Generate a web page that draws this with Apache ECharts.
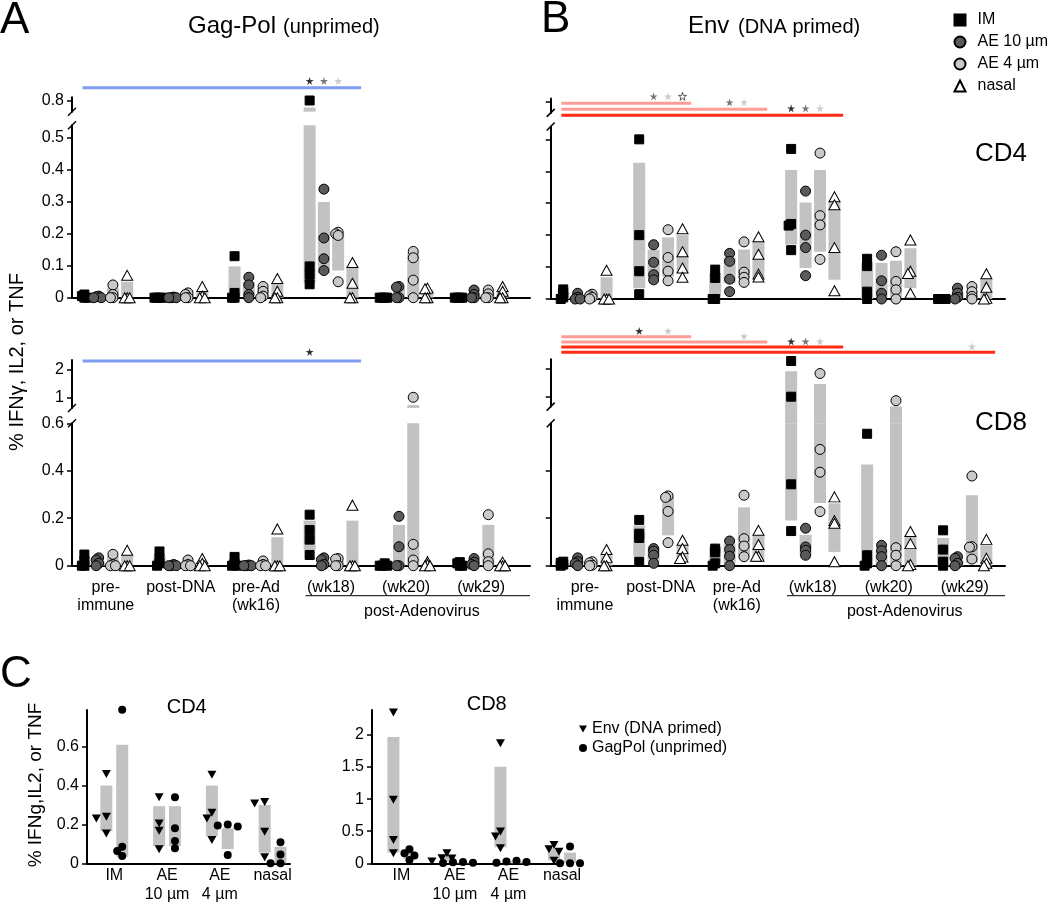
<!DOCTYPE html>
<html><head><meta charset="utf-8">
<script src="https://cdn.jsdelivr.net/npm/echarts@6/dist/echarts.min.js"></script>
<style>html,body{margin:0;padding:0;background:#fff}#c{width:1050px;height:907px}</style>
</head><body><div id="c"></div>
<script>
const FONT = '"Liberation Sans", Arial, Helvetica, sans-serif';

// ---------- categories ----------
const timepoints = ['pre-\nimmune', 'post-DNA', 'pre-Ad\n(wk16)', '(wk18)', '(wk20)', '(wk29)'];
const routes = ['IM', 'AE 10 µm', 'AE 4 µm', 'nasal'];
const routeLabelsC = ['IM', 'AE\n10 µm', 'AE\n4 µm', 'nasal'];
const antigensC = ['Env (DNA primed)', 'GagPol (unprimed)'];

// ---------- tick labels ----------
const ticksCD4Lower = [0, 0.1, 0.2, 0.3, 0.4, 0.5];
const ticksCD4Upper = [0.8];
const ticksCD8LowerA = [0, 0.2, 0.4, 0.6];
const ticksCD8LowerB = [0, 0.2, 0.4];
const ticksCD8Upper = [1, 2];
const ticksC4 = [0, 0.2, 0.4, 0.6];
const ticksC8 = [0, 0.5, 1, 1.5, 2];

// ---------- Panel A: Gag-Pol (unprimed), CD4  (per timepoint, 4 animals) ----------
const gagCD4_IM    = [[0.01,0.005,0,0],[0,0,0,0],[0.13,0.015,0,0],[0.8,0.098,0.072,0.042],[0,0,0,0],[0,0,0,0]];
const gagCD4_AE10  = [[0.005,0.003,0,0],[0.002,0,0,0],[0.064,0.04,0.01,0],[0.34,0.187,0.122,0.085],[0.035,0.033,0,0],[0.024,0.01,0,0]];
const gagCD4_AE4   = [[0.04,0.01,0,0],[0.015,0.01,0,0],[0.035,0.02,0.005,0],[0.205,0.2,0.195,0.05],[0.145,0.125,0.055,0],[0.024,0.012,0,0]];
const gagCD4_nasal = [[0.07,0,0,0],[0.035,0.005,0,0],[0.06,0.02,0,0],[0.11,0.045,0,0],[0.03,0.028,0,0],[0.035,0.02,0,0]];
const gagCD4_IM_bar    = [[0,0.008],null,[0.005,0.098],[0.047,0.778],null,null];
const gagCD4_AE10_bar  = [null,null,[0.005,0.05],[0.077,0.30],[0,0.03],[0,0.015]];
const gagCD4_AE4_bar   = [[0,0.03],[0,0.01],[0,0.03],[0.085,0.2],[0,0.14],[0,0.02]];
const gagCD4_nasal_bar = [[0,0.05],[0,0.02],[0,0.045],[0,0.098],[0,0.025],[0,0.02]];

// ---------- Panel A: Gag-Pol, CD8 ----------
const gagCD8_IM    = [[0.047,0.02,0,0],[0.06,0.03,0.01,0],[0.037,0.01,0,0],[0.215,0.15,0.11,0.045],[0.01,0,0,0],[0.015,0.01,0,0]];
const gagCD8_AE10  = [[0.033,0.024,0.01,0],[0.005,0,0,0],[0.003,0,0,0],[0.033,0.025,0.005,0],[0.208,0.08,0,0],[0.03,0.015,0.005,0]];
const gagCD8_AE4   = [[0.048,0.005,0,0],[0.024,0.005,0,0],[0.02,0.005,0,0],[0.03,0.028,0,0],[1.0,0.09,0.024,0],[0.215,0.05,0.017,0]];
const gagCD8_nasal = [[0.065,0,0,0],[0.03,0.01,0,0],[0.155,0,0,0],[0.255,0,0,0],[0.017,0.005,0,0],[0.015,0,0,0]];
const gagCD8_IM_bar    = [[0,0.025],[0,0.04],[0,0.02],[0.065,0.19],null,[0,0.01]];
const gagCD8_AE10_bar  = [[0,0.02],null,null,[0,0.02],[0,0.172],[0,0.015]];
const gagCD8_AE4_bar   = [[0,0.04],[0,0.01],[0,0.01],[0,0.02],[0,0.725],[0,0.172]];
const gagCD8_nasal_bar = [[0,0.045],[0,0.015],[0,0.12],[0,0.19],[0,0.01],[0,0.008]];

// ---------- Panel B: Env (DNA primed), CD4 ----------
const envCD4_IM    = [[0.03,0.02,0.005,0],[0.5,0.2,0.087,0.015],[0.092,0.066,0,0],[0.47,0.235,0.23,0.153],[0.126,0.103,0.023,0],[0,0,0,0]];
const envCD4_AE10  = [[0.018,0.005,0,0],[0.17,0.115,0.076,0.06],[0.143,0.118,0.062,0.023],[0.338,0.2,0.161,0.073],[0.137,0.057,0.018,0],[0.034,0.018,0.005,0]];
const envCD4_AE4   = [[0.015,0.01,0.005,0],[0.217,0.13,0.087,0.057],[0.179,0.084,0.068,0.052],[0.457,0.261,0.232,0.124],[0.148,0.055,0.029,0],[0.039,0.023,0.008,0]];
const envCD4_nasal = [[0.09,0,0,0],[0.22,0.148,0.097,0.068],[0.195,0.14,0.078,0.069],[0.32,0.295,0.161,0.026],[0.185,0.087,0.08,0.018],[0.079,0.037,0.002,0]];
const envCD4_IM_bar    = [[0,0.02],[0.034,0.427],[0.01,0.08],[0.171,0.404],[0,0.113],null];
const envCD4_AE10_bar  = [null,[0.066,0.155],[0.05,0.13],[0.097,0.302],[0.005,0.113],[0,0.02]];
const envCD4_AE4_bar   = [[0,0.01],[0.07,0.193],[0.066,0.155],[0.148,0.404],[0.007,0.12],[0,0.025]];
const envCD4_nasal_bar = [[0,0.068],[0.081,0.2],[0.066,0.179],[0.06,0.309],[0.034,0.159],[0,0.063]];

// ---------- Panel B: Env, CD8 ----------
const envCD8_IM    = [[0.017,0.012,0.005,0],[0.193,0.135,0.117,0.017],[0.072,0.056,0.01,0],[2.26,1.0,0.343,0.146],[0.556,0.044,0.01,0],[0.149,0.068,0.017,0]];
const envCD8_AE10  = [[0.033,0.017,0.01,0],[0.072,0.061,0.044,0.01],[0.104,0.068,0.04,0],[0.158,0.079,0.065,0.044],[0.086,0.063,0.038,0],[0.038,0.031,0.01,0]];
const envCD8_AE4   = [[0.017,0.012,0.002,0],[0.294,0.288,0.229,0.097],[0.297,0.114,0.083,0.038],[1.82,0.49,0.394,0.228],[0.86,0.076,0.044,0],[0.378,0.08,0.078,0.028]];
const envCD8_nasal = [[0.068,0.035,0,0],[0.107,0.072,0.037,0.03],[0.149,0.089,0.04,0.04],[0.29,0.19,0.179,0.017],[0.144,0.093,0.005,0],[0.111,0.031,0.01,0]];
const envCD8_IM_bar    = [[0,0.01],[0.04,0.17],[0.01,0.08],[0.19,1.9],[0,0.426],[0,0.117]];
const envCD8_AE10_bar  = [[0,0.02],[0.02,0.075],[0.01,0.09],[0.044,0.13],[0,0.065],[0,0.025]];
const envCD8_AE4_bar   = [[0,0.01],[0.128,0.288],[0.038,0.246],[0.264,1.45],[0,0.66],[0.01,0.297]];
const envCD8_nasal_bar = [[0,0.044],[0.024,0.086],[0.024,0.128],[0.058,0.263],[0,0.128],[0,0.086]];

// ---------- significance bars: [level, last timepoint, tone] / stars: [level, timepoint, route] ----------
const sigLinesA4 = [[0,3,0]];
const sigStarsA4 = [[0,3,0],[0,3,1],[0,3,2]];
const sigLinesA8 = [[0,3,0]];
const sigStarsA8 = [[0,3,0]];
const sigLinesB4 = [[0,1,1],[1,2,1],[2,3,2]];
const sigStarsB4 = [[0,1,1],[0,1,2],[0,1,3],[1,2,1],[1,2,2],[2,3,0],[2,3,1],[2,3,2]];
const sigLinesB8 = [[0,1,1],[1,2,1],[2,3,2],[3,5,2]];
const sigStarsB8 = [[0,1,0],[0,1,2],[1,2,2],[2,3,0],[2,3,1],[2,3,2],[3,5,2]];

// ---------- Panel C (week 18; per route, 4 animals) ----------
const envC4 = [[0.46,0.24,0.23,0.154],[0.34,0.205,0.167,0.072],[0.456,0.26,0.231,0.12],[0.316,0.308,0.162,0.031]];
const envC4_bar = [[0.166,0.4],[0.089,0.294],[0.14,0.4],[0.055,0.3]];
const gagC4 = [[0.79,0.085,0.063,0.038],[0.34,0.18,0.115,0.077],[0.2,0.195,0.19,0.043],[0.108,0.045,0,0]];
const gagC4_bar = [[0.034,0.61],[0.089,0.294],[0.073,0.18],[0,0.085]];
const envC8 = [[2.35,0.99,0.364,0.156],[0.156,0.08,0.075,0.03],[1.87,0.494,0.416,0.234],[0.286,0.218,0.18,0.04]];
const envC8_bar = [[0.17,1.97],[0.02,0.13],[0.25,1.506],[0.05,0.234]];
const gagC8 = [[0.218,0.156,0.12,0.052],[0.02,0.015,0.01,0.005],[0.04,0.03,0.02,0.01],[0.26,0,0,0]];
const gagC8_bar = [[0.07,0.19],[0,0.015],[0,0.03],[0,0.166]];

// ---------- styles ----------
const SUB = 0.19;
const BAR_COLOR = '#c2c2c2';
const STAR = 'path://M50,2L61,38L98,38L68,60L79,95L50,73L21,95L32,60L2,38L39,38Z';
const INV_TRI = 'path://M0,0L10,0L5,9Z';
const routeStyle = [
  {symbol:'rect', size:9, color:'#000'},
  {symbol:'circle', size:10, color:'#5a5a5a'},
  {symbol:'circle', size:10, color:'#c9c9c9'},
  {symbol:'triangle', size:[11,10], color:'#fff'}
];
const starColors = ['#000','#555','#bdbdbd','#fff'];
const toneColors = ['#7e9df2','#ff9d96','#ff2a14'];

const panels = [
  {pts:[gagCD4_IM,gagCD4_AE10,gagCD4_AE4,gagCD4_nasal], bars:[gagCD4_IM_bar,gagCD4_AE10_bar,gagCD4_AE4_bar,gagCD4_nasal_bar],
   x0:72, x1:530, xr:[-0.45,5.65],
   lower:{zero:297.7, ppu:319.3, max:0.54, ticks:ticksCD4Lower},
   upper:{ref:0.8, refY:100.5, ppu:319.3, min:0.765, max:0.81, ticks:ticksCD4Upper},
   showLabels:true, xLabels:false, cont:false, ann:{y0:87.7, s:6, star:6.7}, lines:sigLinesA4, stars:sigStarsA4},
  {pts:[gagCD8_IM,gagCD8_AE10,gagCD8_AE4,gagCD8_nasal], bars:[gagCD8_IM_bar,gagCD8_AE10_bar,gagCD8_AE4_bar,gagCD8_nasal_bar],
   x0:72, x1:530, xr:[-0.45,5.65],
   lower:{zero:565.7, ppu:237.3, max:0.6, ticks:ticksCD8LowerA},
   upper:{ref:1, refY:397.3, ppu:28, min:0.62, max:2.33, ticks:ticksCD8Upper},
   showLabels:true, xLabels:true, cont:false, ann:{y0:361, s:6, star:9}, lines:sigLinesA8, stars:sigStarsA8},
  {pts:[envCD4_IM,envCD4_AE10,envCD4_AE4,envCD4_nasal], bars:[envCD4_IM_bar,envCD4_AE10_bar,envCD4_AE4_bar,envCD4_nasal_bar],
   x0:550.7, x1:1005, xr:[-0.45,5.53],
   lower:{zero:299, ppu:319.3, max:0.54, ticks:ticksCD4Lower},
   upper:{ref:0.8, refY:101.7, ppu:319.3, min:0.765, max:0.81, ticks:ticksCD4Upper},
   showLabels:false, xLabels:false, cont:true, ann:{y0:103.3, s:6, star:7}, lines:sigLinesB4, stars:sigStarsB4},
  {pts:[envCD8_IM,envCD8_AE10,envCD8_AE4,envCD8_nasal], bars:[envCD8_IM_bar,envCD8_AE10_bar,envCD8_AE4_bar,envCD8_nasal_bar],
   x0:550.7, x1:1005, xr:[-0.45,5.53],
   lower:{zero:565.7, ppu:237.3, max:0.6, ticks:ticksCD8LowerB},
   upper:{ref:1, refY:396.7, ppu:28.3, min:0.65, max:2.32, ticks:ticksCD8Upper},
   showLabels:false, xLabels:true, cont:true, ann:{y0:336.7, s:5.2, star:5.7}, lines:sigLinesB8, stars:sigStarsB8}
];

const grid = [], xAxis = [], yAxis = [], series = [];
const breakMarks = [];
const bracketAxes = [];

function addGrid(left, width, top, height){ grid.push({left, width, top, height}); return grid.length - 1; }
function yAxisStyle(gi, min, max, ticks, showLabels, fontSize){
  return {gridIndex:gi, type:'value', min, max, position:'left',
    axisLine:{show:true, onZero:false, lineStyle:{color:'#000', width:2}},
    axisTick:{show:true, length:5, customValues:ticks, lineStyle:{color:'#000', width:1.5}},
    axisLabel:{show:showLabels, customValues:ticks, margin:8, fontSize:fontSize, color:'#000', fontFamily:FONT},
    splitLine:{show:false}};
}
function barRender(w){
  return function(params, api){
    const x = api.value(0), lo = api.value(1), hi = api.value(2), fill = api.value(3);
    const top = api.coord([x, hi]), bot = api.coord([x, lo]);
    const yb = fill > 0 ? fill : bot[1];
    return {type:'rect', shape:{x: top[0] - w/2, y: top[1], width: w, height: yb - top[1]}, style:{fill: BAR_COLOR}};
  };
}
function beeswarm(vals, yOf, d, s){
  const placed = [];
  return vals.slice().sort((a,b)=>b-a).map(v => {
    const py = yOf(v); let c = 0;
    for (let k = 0; k < 40; k++){
      c = k === 0 ? 0 : (k % 2 ? -1 : 1) * Math.ceil(k/2) * s;
      if (placed.every(q => (c-q.c)*(c-q.c) + (py-q.py)*(py-q.py) >= d*d - 1e-6)) break;
    }
    placed.push({c, py});
    return {v, c};
  });
}

panels.forEach(p => {
  const W = p.x1 - p.x0;
  const pxPerX = W / (p.xr[1] - p.xr[0]);
  const L = p.lower, U = p.upper;
  const lowTop = L.zero - L.max * L.ppu;
  const gl = addGrid(p.x0, W, lowTop, L.max * L.ppu);
  xAxis.push({gridIndex:gl, type:'value', min:p.xr[0], max:p.xr[1], position:'bottom',
    axisLine:{show:true, onZero:false, lineStyle:{color:'#000', width:2}}, axisTick:{show:false}, splitLine:{show:false},
    axisLabel: p.xLabels ? {show:true, customValues:[0,1,2,3,4,5], formatter: v => timepoints[Math.round(v)],
      margin:13, fontSize:16, lineHeight:18, color:'#000', fontFamily:FONT} : {show:false}});
  yAxis.push(yAxisStyle(gl, 0, L.max, L.ticks, p.showLabels, 16));
  if (p.xLabels) bracketAxes.push({axis:gl, x1:p.x1});

  const upTop = U.refY - (U.max - U.ref) * U.ppu;
  const upH = (U.max - U.min) * U.ppu;
  const gu = addGrid(p.x0, W, upTop, upH);
  xAxis.push({gridIndex:gu, type:'value', min:p.xr[0], max:p.xr[1], show:false});
  yAxis.push(yAxisStyle(gu, U.min, U.max, U.ticks, p.showLabels, 16));
  breakMarks.push({x:p.x0, y:upTop + upH}, {x:p.x0, y:lowTop});

  // bars
  const lowBars = [], upBars = [];
  p.bars.forEach((rb, r) => rb.forEach((b, g) => {
    if (!b) return;
    const x = g + (r - 1.5) * SUB, lo = b[0], hi = b[1];
    if (lo < L.max) lowBars.push([x, lo, Math.min(hi, L.max), 0]);
    if (hi > U.min) upBars.push([x, Math.max(lo, U.min), hi, (p.cont && lo < U.min) ? lowTop : 0]);
  }));
  series.push({type:'custom', xAxisIndex:gl, yAxisIndex:gl, data:lowBars, renderItem:barRender(12), z:1, silent:true});
  series.push({type:'custom', xAxisIndex:gu, yAxisIndex:gu, data:upBars, renderItem:barRender(12), z:1, silent:true});

  // points
  const yOf = v => v > L.max ? (U.refY - (v - U.ref) * U.ppu) : (L.zero - v * L.ppu);
  p.pts.forEach((rows, r) => {
    const lowPts = [], upPts = [];
    rows.forEach((vals, g) => {
      beeswarm(vals, yOf, 2.5, 2.5).forEach(({v, c}) => {
        const pt = [g + (r - 1.5) * SUB + c / pxPerX, v];
        (v > L.max ? upPts : lowPts).push(pt);
      });
    });
    const st = routeStyle[r];
    const common = {type:'scatter', name:routes[r], symbol:st.symbol, symbolSize:st.size,
      itemStyle:{color:st.color, borderColor:'#000', borderWidth:1, opacity:1}, z:3, clip:false, silent:true};
    series.push(Object.assign({xAxisIndex:gl, yAxisIndex:gl, data:lowPts}, common));
    if (upPts.length) series.push(Object.assign({xAxisIndex:gu, yAxisIndex:gu, data:upPts}, common));
  });

  // significance annotations
  const A = p.ann;
  const ga = addGrid(p.x0, W, A.y0 - 1.5 * A.s, 5 * A.s);
  xAxis.push({gridIndex:ga, type:'value', min:p.xr[0], max:p.xr[1], show:false});
  yAxis.push({gridIndex:ga, type:'value', min:-1.5, max:3.5, inverse:true, show:false});
  p.lines.forEach(([lvl, g, tone]) => series.push({type:'line', xAxisIndex:ga, yAxisIndex:ga,
    data:[[-0.31, lvl], [Math.min(g + 0.4, p.xr[1]), lvl]], symbol:'none', silent:true, z:2,
    lineStyle:{color:toneColors[tone], width:3}}));
  series.push({type:'scatter', xAxisIndex:ga, yAxisIndex:ga, symbol:STAR, symbolSize:8, clip:false, silent:true, z:4,
    data:p.stars.map(([lvl, g, r]) => ({value:[g + (r - 1.5) * SUB, lvl - A.star / A.s],
      itemStyle:{color:starColors[r], borderColor:r === 3 ? '#000' : starColors[r], borderWidth:r === 3 ? 0.8 : 0}}))});
});

// ---------- Panel C ----------
const cPanels = [
  {env:envC4, envBar:envC4_bar, gag:gagC4, gagBar:gagC4_bar, x0:87, x1:290, xr:[-0.517,3.33], zero:863.3, ppu:194.3, max:0.789, ticks:ticksC4},
  {env:envC8, envBar:envC8_bar, gag:gagC8, gagBar:gagC8_bar, x0:372, x1:562, xr:[-0.55,3.0], zero:863.3, ppu:64.15, max:2.39, ticks:ticksC8}
];
cPanels.forEach(c => {
  const W = c.x1 - c.x0, pxPerX = W / (c.xr[1] - c.xr[0]);
  const gi = addGrid(c.x0, W, c.zero - c.max * c.ppu, c.max * c.ppu);
  xAxis.push({gridIndex:gi, type:'value', min:c.xr[0], max:c.xr[1], position:'bottom',
    axisLine:{show:true, onZero:false, lineStyle:{color:'#000', width:2}}, axisTick:{show:false}, splitLine:{show:false},
    axisLabel:{show:true, customValues:[0,1,2,3], formatter: v => routeLabelsC[Math.round(v)],
      margin:3, fontSize:16, lineHeight:19, color:'#000', fontFamily:FONT}});
  yAxis.push(yAxisStyle(gi, 0, c.max, c.ticks, true, 16));
  const bars = [];
  [[c.envBar, -0.15], [c.gagBar, 0.15]].forEach(([arr, off]) => arr.forEach((b, i) => { if (b) bars.push([i + off, b[0], b[1], 0]); }));
  series.push({type:'custom', xAxisIndex:gi, yAxisIndex:gi, data:bars, renderItem:barRender(12), z:1, silent:true});
  const yOf = v => c.zero - v * c.ppu;
  [[c.env, -0.15, 0, INV_TRI, [9,8]], [c.gag, 0.15, 1, 'circle', 8]].forEach(([arr, off, ai, sym, size]) => {
    const pts = [];
    arr.forEach((vals, i) => beeswarm(vals, yOf, 6, 5).forEach(({v, c: cc}) => pts.push([i + off + cc / pxPerX, v])));
    series.push({type:'scatter', name:antigensC[ai], xAxisIndex:gi, yAxisIndex:gi, data:pts, symbol:sym, symbolSize:size,
      itemStyle:{color:'#000', opacity:1}, z:3, clip:false, silent:true});
  });
});

const chart = echarts.init(document.getElementById('c'), null, {renderer:'canvas'});
chart.setOption({
  animation:false,
  backgroundColor:'#fff',
  textStyle:{fontFamily:FONT},
  grid, xAxis, yAxis, series,
  legend:[
    {data:routes, orient:'vertical', left:948.5, top:7, itemWidth:11, itemHeight:11, itemGap:6, selectedMode:false,
     textStyle:{fontSize:16, color:'#000', fontFamily:FONT, padding:[0,0,0,7]}},
    {data:antigensC, orient:'vertical', left:574, top:716, itemWidth:8, itemHeight:8, itemGap:3, selectedMode:false,
     textStyle:{fontSize:16, color:'#000', fontFamily:FONT}}
  ]
});

// ---------- text & decorations ----------
function txt(text, x, y, size, opts){
  return Object.assign({type:'text', x, y, silent:true,
    style:Object.assign({text, fontSize:size, fontFamily:FONT, fill:'#000', align:'left', verticalAlign:'middle'}, opts || {})});
}
const graphic = [
  txt('A', 0, 20.5, 44), txt('B', 541, 19.5, 44), txt('C', 0, 675, 44),
  txt('Gag-Pol', 188, 26.4, 24), txt('(unprimed)', 283, 27.8, 20),
  txt('Env', 688, 26.4, 24), txt('(DNA primed)', 738, 27.8, 20),
  txt('CD4', 975, 154, 26), txt('CD8', 975, 423, 26),
  Object.assign(txt('% IFNγ, IL2, or TNF', 17, 362, 20, {align:'center'}), {rotation:Math.PI/2}),
  Object.assign(txt('% IFNg,IL2, or TNF', 35.5, 785, 19, {align:'center'}), {rotation:Math.PI/2}),
  txt('CD4', 186.7, 707, 20, {align:'center'}), txt('CD8', 486.7, 704, 20, {align:'center'})
];
breakMarks.forEach(b => graphic.push({type:'line', silent:true,
  shape:{x1:b.x - 4, y1:b.y + 4, x2:b.x + 4, y2:b.y - 4}, style:{stroke:'#000', lineWidth:1.5}}));
bracketAxes.forEach(b => {
  const xs = chart.convertToPixel({xAxisIndex:b.axis}, 2.66);
  const xt = chart.convertToPixel({xAxisIndex:b.axis}, 4.21);
  graphic.push({type:'line', silent:true, shape:{x1:xs, y1:595.7, x2:b.x1, y2:595.7}, style:{stroke:'#000', lineWidth:1}});
  graphic.push(txt('post-Adenovirus', xt, 611.5, 16, {align:'center'}));
});
chart.setOption({graphic});
</script>
</body></html>
